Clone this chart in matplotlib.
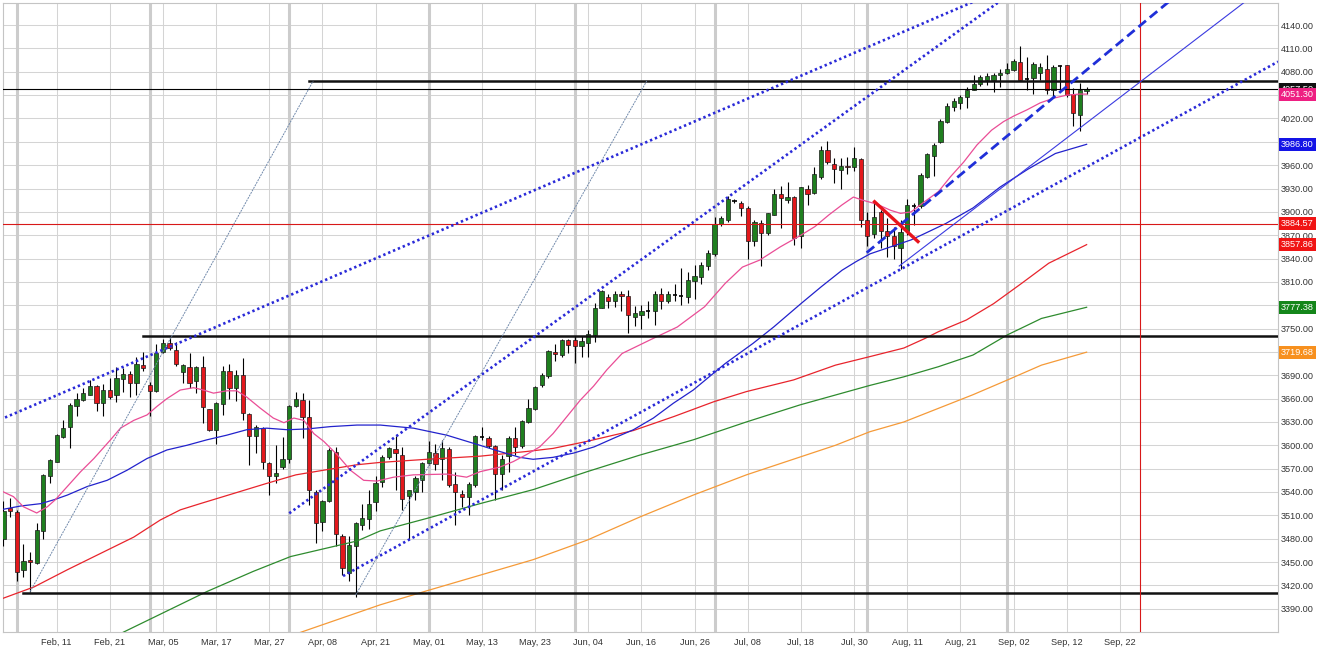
import matplotlib
matplotlib.use('Agg')
import matplotlib.pyplot as plt

# candles, one per trading day (index 0 = first bar on the chart)
opens = [3479, 3519, 3514, 3440, 3453, 3449, 3490, 3560, 3579, 3611,
         3623, 3650, 3658, 3665, 3676, 3654, 3671, 3665, 3685, 3692,
         3680, 3703, 3678, 3670, 3720, 3731, 3723, 3694, 3700, 3682,
         3700, 3646, 3620, 3653, 3695, 3673, 3690, 3640, 3612, 3622,
         3577, 3560, 3572, 3583, 3650, 3658, 3636, 3540, 3501, 3528,
         3592, 3484, 3436, 3470, 3497, 3505, 3527, 3553, 3585, 3595,
         3588, 3535, 3540, 3556, 3577, 3590, 3583, 3595, 3550, 3538,
         3533, 3549, 3611, 3610, 3599, 3563, 3586, 3610, 3599, 3630,
         3647, 3677, 3689, 3720, 3716, 3735, 3735, 3727, 3732, 3742,
         3777, 3790, 3785, 3795, 3792, 3765, 3767, 3773, 3772, 3795,
         3785, 3793, 3792, 3791, 3811, 3816, 3831, 3846, 3884, 3890,
         3914, 3912, 3905, 3863, 3886, 3873, 3896, 3923, 3915, 3919,
         3869, 3929, 3924, 3945, 3979, 3962, 3954, 3959, 3957, 3968,
         3890, 3872, 3900, 3875, 3869, 3854, 3875, 3907, 3907, 3945,
         3972, 3990, 4016, 4035, 4040, 4047, 4057, 4064, 4070, 4069,
         4076, 4078, 4082, 4092, 4071, 4072, 4079, 4083, 4057, 4087,
         4089, 4051, 4025, 4055]
highs = [3528, 3532, 3517, 3473, 3463, 3500, 3563, 3582, 3614, 3632,
         3654, 3667, 3673, 3684, 3678, 3679, 3687, 3700, 3699, 3696,
         3713, 3720, 3681, 3730, 3737, 3739, 3733, 3704, 3718, 3702,
         3715, 3647, 3655, 3702, 3705, 3697, 3712, 3641, 3626, 3623,
         3578, 3600, 3611, 3652, 3668, 3667, 3658, 3542, 3530, 3596,
         3598, 3486, 3483, 3501, 3525, 3543, 3560, 3588, 3598, 3612,
         3598, 3543, 3560, 3579, 3605, 3602, 3607, 3598, 3566, 3543,
         3553, 3613, 3624, 3612, 3600, 3588, 3612, 3624, 3633, 3660,
         3676, 3693, 3723, 3730, 3736, 3737, 3740, 3740, 3748, 3783,
         3800, 3795, 3798, 3798, 3800, 3779, 3780, 3785, 3798, 3802,
         3798, 3807, 3828, 3823, 3832, 3836, 3851, 3893, 3895, 3920,
         3917, 3914, 3907, 3890, 3890, 3899, 3930, 3933, 3939, 3920,
         3932, 3935, 3958, 3984, 3991, 3969, 3969, 3971, 3983, 3969,
         3900, 3914, 3903, 3892, 3881, 3890, 3917, 3911, 3950, 3975,
         3988, 4019, 4040, 4046, 4050, 4060, 4076, 4076, 4078, 4078,
         4084, 4091, 4096, 4113, 4099, 4093, 4091, 4102, 4089, 4089,
         4089, 4059, 4065, 4060]
lows = [3470, 3508, 3425, 3431, 3411, 3447, 3479, 3551, 3578, 3610,
        3597, 3637, 3657, 3664, 3644, 3638, 3660, 3655, 3668, 3662,
        3665, 3696, 3637, 3668, 3718, 3722, 3702, 3680, 3673, 3667,
        3629, 3618, 3602, 3639, 3660, 3657, 3632, 3575, 3590, 3570,
        3536, 3551, 3570, 3577, 3649, 3609, 3523, 3474, 3490, 3527,
        3471, 3433, 3425, 3405, 3491, 3492, 3516, 3547, 3583, 3543,
        3517, 3480, 3530, 3540, 3575, 3568, 3555, 3547, 3498, 3521,
        3510, 3547, 3607, 3597, 3530, 3543, 3566, 3588, 3597, 3629,
        3645, 3675, 3687, 3708, 3714, 3718, 3706, 3714, 3714, 3733,
        3776, 3776, 3778, 3773, 3744, 3753, 3750, 3763, 3754, 3775,
        3783, 3785, 3780, 3783, 3788, 3807, 3825, 3843, 3882, 3887,
        3911, 3895, 3840, 3856, 3831, 3870, 3896, 3879, 3911, 3858,
        3853, 3909, 3923, 3942, 3962, 3937, 3929, 3949, 3952, 3881,
        3856, 3866, 3853, 3842, 3840, 3826, 3870, 3883, 3905, 3944,
        3946, 3989, 4014, 4030, 4032, 4034, 4056, 4062, 4063, 4054,
        4060, 4077, 4081, 4069, 4056, 4052, 4069, 4052, 4048, 4056,
        4048, 4010, 4004, 4052]
closes = [3515, 3515, 3437, 3451, 3450, 3491, 3562, 3581, 3613, 3622,
          3652, 3660, 3667, 3676, 3654, 3671, 3662, 3687, 3692, 3680,
          3705, 3699, 3670, 3718, 3732, 3725, 3705, 3703, 3680, 3701,
          3649, 3620, 3654, 3696, 3673, 3690, 3642, 3612, 3624, 3578,
          3560, 3565, 3583, 3651, 3660, 3636, 3542, 3500, 3528, 3594,
          3486, 3442, 3472, 3500, 3507, 3525, 3552, 3585, 3596, 3590,
          3531, 3543, 3558, 3577, 3591, 3576, 3596, 3549, 3540, 3534,
          3550, 3612, 3611, 3599, 3563, 3583, 3610, 3598, 3631, 3648,
          3675, 3690, 3721, 3717, 3735, 3729, 3728, 3734, 3743, 3777,
          3798, 3785, 3795, 3792, 3767, 3770, 3773, 3773, 3795, 3786,
          3795, 3793, 3792, 3813, 3818, 3832, 3847, 3885, 3892, 3916,
          3914, 3905, 3862, 3887, 3873, 3898, 3923, 3918, 3919, 3867,
          3932, 3923, 3948, 3980, 3964, 3955, 3959, 3957, 3969, 3889,
          3869, 3893, 3875, 3869, 3856, 3874, 3909, 3907, 3947, 3974,
          3986, 4017, 4036, 4042, 4048, 4057, 4064, 4073, 4074, 4076,
          4079, 4083, 4094, 4070, 4071, 4090, 4086, 4057, 4086, 4087,
          4050, 4027, 4057, 4057.5]

# moving averages (bar index, value)
ma20_x = [0, 1.5, 3, 5, 6.6, 7.8, 9.6, 11.6, 13.6, 16.1, 17.6, 19.6, 21.6, 23.1,
          24.6, 26.6, 28.6, 30.1, 31.6, 33.6, 35.1, 36.6, 38.6, 40.6, 42.2, 43.7,
          45.2, 46.7, 48.2, 50.2, 52.2, 54.2, 56.2, 58.7, 61.7, 66.7, 69.7, 71.7,
          74.7, 76.7, 78.7, 80.7, 82.7, 84.8, 86.8, 88.8, 90.8, 93.1, 97.2, 101.4,
          105.5, 108.6, 111.2, 113.8, 116.9, 120.0, 122.1, 124.2, 126.2, 127.9,
          129.3, 131.4, 133.5, 135.0, 136.6, 138.6, 140.7, 142.5, 144.5, 146.5,
          148.7, 150.5, 152.0, 154.0, 156.0, 158.0, 160.0, 162.0, 163.0]
ma20_y = [3540, 3534, 3521, 3513, 3521, 3530, 3547, 3566, 3583, 3607, 3622, 3632, 3639, 3650,
          3660, 3671, 3674, 3671, 3667, 3670, 3670, 3662, 3648, 3635, 3629, 3635,
          3632, 3615, 3605, 3588, 3568, 3555, 3554, 3559, 3562, 3563, 3559, 3566,
          3572, 3579, 3588, 3598, 3615, 3637, 3658, 3676, 3697, 3718, 3735, 3752,
          3778, 3808, 3829, 3838, 3855, 3870, 3881, 3896, 3909, 3919,
          3915, 3910, 3902, 3898, 3900, 3913, 3926, 3945, 3964, 3986,
          4005, 4016, 4023, 4031, 4040, 4046, 4050, 4051.4, 4051.3]
ma50_x = [-0.5, 2.6, 5.6, 7.6, 9.6, 12.6, 15.6, 18.6, 21.6, 24.6, 27.6, 30.6, 33.6,
          36.6, 39.6, 42.7, 45.7, 49.2, 53.2, 56.7, 61.7, 66.7, 71.7, 74.7, 77.7,
          79.7, 82.7, 85.8, 88.9, 91.8, 94.8, 97.8, 100.8, 103.8, 108.6, 112.8,
          115.9, 120.0, 123.1, 126.2, 128.3, 130.4, 133.5, 136.6, 138.6, 141.8,
          145.9, 150.0, 154.2, 158.3, 163.0]
ma50_y = [3517, 3522, 3525, 3530, 3536, 3547, 3555, 3568, 3583, 3594, 3600, 3607, 3613,
          3620, 3622, 3620, 3621, 3624, 3626, 3626, 3622, 3613, 3600, 3592, 3584.5,
          3582, 3584.5, 3590, 3598, 3609, 3620, 3635, 3654, 3671, 3705, 3731,
          3752, 3782, 3804, 3825, 3836, 3846, 3855, 3864, 3872, 3885,
          3905, 3932, 3955, 3975, 3986.8]
ma100_x = [-0.5, 4.6, 9.6, 14.6, 19.6, 23.6, 26.6, 29.6, 34.6, 39.6, 44.0, 48.2, 53.2,
           56.7, 63.7, 71.7, 78.7, 82.7, 87.8, 94.8, 100.9, 106.9, 111.8, 118.9,
           125.2, 130.4, 135.5, 138.6, 140.7, 144.9, 149.0, 153.2, 157.3, 163.0]
ma100_y = [3402, 3418, 3440, 3461, 3482, 3504, 3517, 3525, 3538, 3551, 3562, 3568, 3575,
           3578, 3582, 3586, 3592, 3596, 3605, 3619, 3637, 3656, 3669, 3684,
           3703, 3714, 3725, 3737, 3746, 3761, 3782, 3808, 3834, 3857.86]
ma150_x = [17.6, 30.6, 37.6, 43.2, 48.2, 53.2, 56.7, 63.7, 71.7, 79.7, 87.8, 95.8,
           103.8, 111.8, 119.9, 130.4, 135.5, 140.7, 145.9, 151.1, 156.2, 163.0]
ma150_y = [3358, 3412, 3438, 3457, 3467, 3477, 3490, 3506, 3525, 3543, 3566, 3587.5,
           3607, 3630, 3652, 3677, 3688, 3701, 3716, 3742, 3763, 3777.38]
ma200_x = [44.5, 56.7, 63.7, 71.7, 79.7, 87.8, 95.8, 103.8, 111.8, 119.9, 125.2,
           130.4, 135.5, 140.7, 145.9, 151.1, 156.2, 163.0]
ma200_y = [3359, 3395, 3413, 3433, 3453, 3478, 3508, 3536, 3562, 3585, 3600,
           3617.5, 3630, 3647.5, 3665, 3684, 3703, 3719.68]

# drawn trend lines: (x0, y0, x1, y1) in bar index / price
upper_dots = [(-0.5, 3633, 146.5, 4172), (43.0, 3512.6, 150.0, 4171)]
lower_dots = (51.1, 3432.0, 191.8, 4093.0)
aug_dash = (129.9, 3847.5, 175.5, 4171)
aug_thin = (134.8, 3830.4, 187.0, 4171)
fan_lines = [(4.0, 3411.8, 46.6, 4068.2), (53.0, 3407.6, 96.8, 4068.2)]
red_stroke = (130.9, 3914.4, 137.8, 3860.4)
resist_hi = (46.0, 4068.2)
resist_mid = (21.0, 3740.7)
support_lo = (3.0, 3409.8)
last_price = 4057.5
red_level = 3884.57
marker_bar = 171

tick_pos = list(range(8, 169, 8))
tick_lab = ['Feb, 11', 'Feb, 21', 'Mar, 05', 'Mar, 17', 'Mar, 27', 'Apr, 08', 'Apr, 21',
            'May, 01', 'May, 13', 'May, 23', 'Jun, 04', 'Jun, 16', 'Jun, 26', 'Jul, 08',
            'Jul, 18', 'Jul, 30', 'Aug, 11', 'Aug, 21', 'Sep, 02', 'Sep, 12', 'Sep, 22']
month_bars = [2, 22, 43, 64, 86, 107, 130, 151]

plt.rcParams['font.family'] = ['Liberation Sans', 'DejaVu Sans']

fig = plt.figure(figsize=(13.21, 6.62), dpi=100)
ax = fig.add_axes([3 / 1321, 30 / 662, 1275 / 1321, 629 / 662])
ax.set_xlim(-0.075, 191.8)
ax.set_ylim(3360.05, 4168.4)

# grid
for t in range(3390, 4170, 30):
    ax.axhline(t, color='#d4d4d4', lw=0.75, zorder=0)
for t in tick_pos:
    ax.axvline(t, color='#d4d4d4', lw=0.75, zorder=0)
for t in month_bars:
    ax.axvline(t, color='#cccccc', lw=2.2, zorder=0)

# candles
for i in range(len(opens)):
    o, h, l, c = opens[i], highs[i], lows[i], closes[i]
    ax.vlines(i, l, h, color='black', lw=0.8, zorder=3)
    if abs(c - o) < 1:
        ax.hlines(o, i - 0.32, i + 0.32, color='black', lw=1.2, zorder=4)
    else:
        fc = '#1f7f1f' if c > o else '#e3181c'
        ax.bar(i, abs(c - o), width=0.64, bottom=min(o, c), color=fc,
               edgecolor='#1a1a1a', linewidth=0.5, zorder=4)

# moving averages
ax.plot(ma200_x, ma200_y, color='#f59a38', lw=0.9, zorder=5)
ax.plot(ma150_x, ma150_y, color='#2e8b2e', lw=0.9, zorder=5)
ax.plot(ma100_x, ma100_y, color='#e8242c', lw=0.9, zorder=5)
ax.plot(ma50_x, ma50_y, color='#2222cc', lw=0.9, zorder=5)
ax.plot(ma20_x, ma20_y, color='#ea4d96', lw=0.9, zorder=5)

# horizontal levels
ax.axhline(last_price, color='black', lw=0.8, zorder=6)
ax.axhline(red_level, color='#d81818', lw=0.8, zorder=6)
for x0, y0 in (resist_hi, resist_mid, support_lo):
    ax.plot([x0, 192], [y0, y0], color='#111111', lw=1.8, zorder=6)
ax.axvline(marker_bar, color='#d81818', lw=0.8, zorder=6)

# trend lines
for x0, y0, x1, y1 in upper_dots + [lower_dots]:
    ax.plot([x0, x1], [y0, y1], color='#2a2ad8', lw=1.9, ls=(0, (0.9, 1.1)), zorder=7)
for x0, y0, x1, y1 in fan_lines:
    ax.plot([x0, x1], [y0, y1], color='#6f88aa', lw=0.7, ls=(0, (2, 1)), zorder=7)
x0, y0, x1, y1 = aug_dash
ax.plot([x0, x1], [y0, y1], color='#1f2fd8', lw=2.0, ls=(0, (3.5, 1.8)), zorder=7)
x0, y0, x1, y1 = aug_thin
ax.plot([x0, x1], [y0, y1], color='#3a3ae0', lw=0.8, zorder=7)
x0, y0, x1, y1 = red_stroke
ax.plot([x0, x1], [y0, y1], color='#e8141c', lw=2.4, solid_capstyle='butt', zorder=8)

# axes styling
for side in ('left', 'top', 'right', 'bottom'):
    ax.spines[side].set_color('#c4c4c4')
    ax.spines[side].set_linewidth(0.8)
ax.yaxis.tick_right()
ax.set_yticks(range(3390, 4141, 30))
ax.set_yticklabels([f'{v:.2f}' for v in range(3390, 4141, 30)])
ax.set_xticks(tick_pos)
ax.set_xticklabels(tick_lab)
ax.tick_params(axis='both', length=0, labelsize=6.6, colors='#333333')
ax.tick_params(axis='y', pad=2.2)
ax.tick_params(axis='x', pad=4)

# value tags on the price scale
tags = [(4057.50, '#111111'), (4051.30, '#ee1f82'), (3986.80, '#1414e6'),
        (3884.57, '#f01414'), (3857.86, '#f01414'), (3777.38, '#14861a'),
        (3719.68, '#f7901e')]
for val, col in tags:
    ax.annotate(f'{val:.2f}', xy=(1, val), xycoords=('axes fraction', 'data'),
                xytext=(2.0, 0), textcoords='offset points', ha='left', va='center',
                fontsize=6.6, color='white', annotation_clip=False, zorder=10,
                bbox=dict(boxstyle='square,pad=0.22', fc=col, ec='none'))

fig.savefig('out.png', dpi=100)
